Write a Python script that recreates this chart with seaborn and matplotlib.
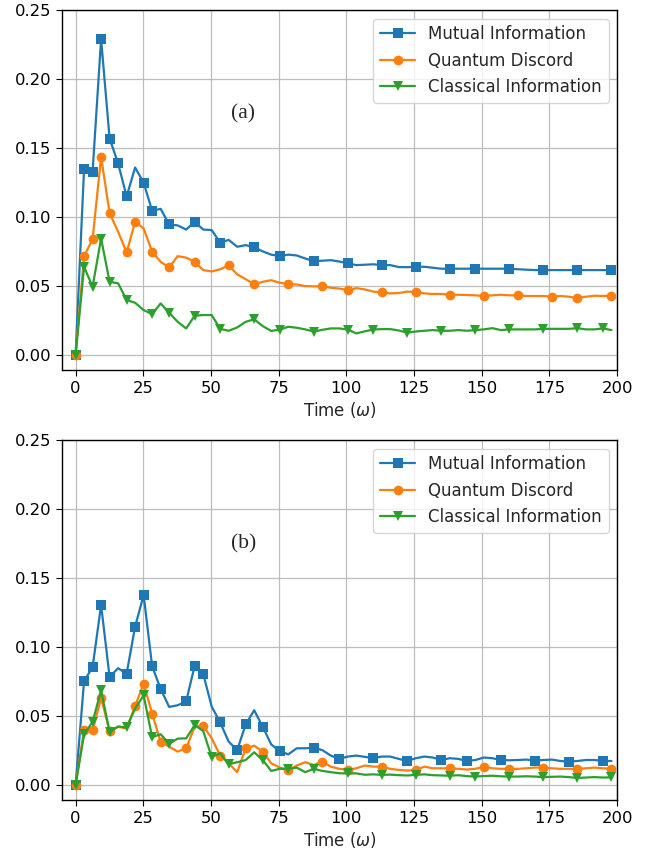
import numpy as np
import pandas as pd
import matplotlib
matplotlib.use("Agg")
import matplotlib.pyplot as plt
import seaborn as sns

# time grid (step = pi)
time = np.arange(64) * np.pi

series_names = ["Mutual Information", "Quantum Discord", "Classical Information"]

mi_a = [0, 0.135, 0.133, 0.229, 0.157, 0.139, 0.115, 0.136, 0.125, 0.1046,
        0.106, 0.0947, 0.094, 0.091, 0.0966, 0.091, 0.0906, 0.0815, 0.0835, 0.0785,
        0.0797, 0.0781, 0.0752, 0.0728, 0.0717, 0.0728, 0.0722, 0.0700, 0.0681, 0.0684,
        0.0688, 0.0678, 0.0665, 0.0652, 0.0655, 0.0658, 0.0652, 0.0652, 0.0638, 0.0637,
        0.0640, 0.0640, 0.0633, 0.0626, 0.0626, 0.0626, 0.0626, 0.0626, 0.0626, 0.0626,
        0.0626, 0.0626, 0.0622, 0.0619, 0.0616, 0.0616, 0.0616, 0.0616, 0.0616, 0.0616,
        0.0616, 0.0616, 0.0616, 0.0616]
qd_a = [0, 0.0717, 0.084, 0.1437, 0.103, 0.0894, 0.0744, 0.0966, 0.0918, 0.0749,
        0.0676, 0.0635, 0.0717, 0.0706, 0.0678, 0.0616, 0.0606, 0.0622, 0.0650, 0.0585,
        0.0550, 0.0514, 0.0531, 0.0543, 0.0524, 0.0514, 0.0512, 0.0500, 0.0498, 0.0499,
        0.0488, 0.0482, 0.0471, 0.0485, 0.0476, 0.0460, 0.0455, 0.0447, 0.0450, 0.0460,
        0.0457, 0.0447, 0.0443, 0.0443, 0.0437, 0.0437, 0.0435, 0.0433, 0.0428, 0.0433,
        0.0437, 0.0433, 0.0433, 0.0428, 0.0428, 0.0428, 0.0423, 0.0428, 0.0423, 0.0413,
        0.0423, 0.0430, 0.0428, 0.0430]
ci_a = [0, 0.064, 0.0495, 0.0845, 0.0531, 0.052, 0.0399, 0.0379, 0.0326, 0.0297,
        0.0374, 0.0307, 0.0241, 0.0193, 0.0285, 0.0290, 0.0290, 0.0190, 0.0176, 0.0200,
        0.0241, 0.0259, 0.0210, 0.0175, 0.0184, 0.0205, 0.0198, 0.0186, 0.0170, 0.0183,
        0.0193, 0.0193, 0.0185, 0.0157, 0.0172, 0.0185, 0.0188, 0.0188, 0.0178, 0.0162,
        0.0171, 0.0176, 0.0181, 0.0176, 0.0176, 0.0181, 0.0176, 0.0181, 0.0186, 0.0195,
        0.0181, 0.0186, 0.0186, 0.0186, 0.0186, 0.0190, 0.0190, 0.0190, 0.0190, 0.0195,
        0.0186, 0.0186, 0.0193, 0.0181]

mi_b = [0, 0.0754, 0.0855, 0.1306, 0.0783, 0.0848, 0.0807, 0.115, 0.1378, 0.0862,
        0.0697, 0.0567, 0.0579, 0.0607, 0.0865, 0.0807, 0.057, 0.0454, 0.0315, 0.0254,
        0.0440, 0.0543, 0.0423, 0.0295, 0.0247, 0.0223, 0.0267, 0.0267, 0.0271, 0.0254,
        0.0214, 0.0190, 0.0207, 0.0214, 0.0205, 0.0195, 0.0207, 0.0207, 0.0190, 0.0175,
        0.0195, 0.0207, 0.0200, 0.0182, 0.0195, 0.0190, 0.0175, 0.0182, 0.0200, 0.0195,
        0.0182, 0.0180, 0.0182, 0.0185, 0.0178, 0.0182, 0.0185, 0.0175, 0.0170, 0.0175,
        0.0182, 0.0182, 0.0175, 0.0175]
qd_b = [0, 0.0402, 0.0396, 0.0632, 0.0391, 0.0423, 0.0410, 0.0574, 0.0735, 0.0519,
        0.0315, 0.0279, 0.0243, 0.0267, 0.0423, 0.0430, 0.0340, 0.0214, 0.0158, 0.0094,
        0.0267, 0.0286, 0.0243, 0.0158, 0.0127, 0.0110, 0.0142, 0.0166, 0.0146, 0.0171,
        0.0134, 0.0118, 0.0110, 0.0122, 0.0142, 0.0134, 0.0134, 0.0118, 0.0110, 0.0106,
        0.0110, 0.0134, 0.0122, 0.0122, 0.0122, 0.0118, 0.0113, 0.0118, 0.0134, 0.0122,
        0.0118, 0.0118, 0.0118, 0.0122, 0.0127, 0.0127, 0.0122, 0.0118, 0.0118, 0.0118,
        0.0122, 0.0127, 0.0122, 0.0118]
ci_b = [0, 0.0368, 0.0459, 0.0687, 0.0385, 0.0425, 0.0418, 0.0555, 0.0651, 0.0347,
        0.0369, 0.0300, 0.0337, 0.0339, 0.0435, 0.0393, 0.0204, 0.0231, 0.0151, 0.0166,
        0.0182, 0.0238, 0.0182, 0.0103, 0.0118, 0.0118, 0.0127, 0.0094, 0.0118, 0.0103,
        0.0094, 0.0086, 0.0085, 0.0085, 0.0075, 0.0078, 0.0074, 0.0076, 0.0072, 0.0070,
        0.0074, 0.0078, 0.0072, 0.0070, 0.0068, 0.0072, 0.0065, 0.0062, 0.0066, 0.0068,
        0.0064, 0.0062, 0.0062, 0.0064, 0.0062, 0.0058, 0.0060, 0.0062, 0.0058, 0.0052,
        0.0055, 0.0058, 0.0055, 0.0056]

# indices of the samples that carry a marker (style)
mark_mi_a = [0, 1, 2, 3, 4, 5, 6, 8, 9, 11, 14, 17, 21, 24, 28, 32, 36, 40, 44, 47, 51, 55, 59, 63]
mark_qd_a = [0, 1, 2, 3, 4, 6, 7, 9, 11, 14, 18, 21, 25, 29, 32, 36, 40, 44, 48, 52, 56, 59, 63]
mark_ci_a = [0, 1, 2, 3, 4, 6, 9, 11, 14, 17, 21, 24, 28, 32, 35, 39, 43, 47, 51, 55, 59, 62]
mark_mi_b = [0, 1, 2, 3, 4, 6, 7, 8, 9, 10, 13, 14, 15, 17, 19, 20, 22, 24, 28, 31, 35, 39, 43, 46, 50, 54, 58, 62]
mark_qd_b = [0, 1, 2, 3, 4, 7, 8, 9, 10, 13, 15, 17, 20, 22, 25, 29, 32, 36, 40, 44, 48, 51, 55, 59, 63]
mark_ci_b = [0, 1, 2, 3, 4, 6, 8, 9, 11, 14, 16, 18, 22, 25, 28, 32, 36, 40, 44, 47, 51, 55, 59, 63]

x_ticks = [0, 25, 50, 75, 100, 125, 150, 175, 200]
y_ticks = [0.00, 0.05, 0.10, 0.15, 0.20, 0.25]
panel_labels = ["(a)", "(b)"]

colors = ["#1f77b4", "#ff7f0e", "#2ca02c"]
markers = ["s", "o", "v"]

sns.set_style("ticks")
plt.rcParams["font.family"] = ["DejaVu Sans"]

fig = plt.figure(figsize=(6.6, 8.55), dpi=100)
ax_a = fig.add_axes([0.094, 0.567, 0.841, 0.421])
ax_b = fig.add_axes([0.094, 0.064, 0.841, 0.421])

panels = [(ax_a, [mi_a, qd_a, ci_a], [mark_mi_a, mark_qd_a, mark_ci_a]),
          (ax_b, [mi_b, qd_b, ci_b], [mark_mi_b, mark_qd_b, mark_ci_b])]
for (ax, data, marks), lab in zip(panels, panel_labels):
    for name, vals, mk, c, m in zip(series_names, data, marks, colors, markers):
        df = pd.DataFrame({"t": time, "v": vals})
        sns.lineplot(data=df, x="t", y="v", ax=ax, color=c, marker=m,
                     markersize=7, markeredgewidth=0, linewidth=1.6,
                     markevery=mk, label=name)
    ax.set_xlim(-5, 200)
    ax.set_ylim(-0.011, 0.25)
    ax.set_xticks(x_ticks)
    ax.set_yticks(y_ticks)
    ax.set_yticklabels([f"{v:.2f}" for v in y_ticks])
    ax.tick_params(labelsize=11.8, colors="black", length=4)
    ax.grid(True, color="#bdbdbd", linewidth=0.9)
    ax.set_axisbelow(True)
    for s in ax.spines.values():
        s.set_visible(True)
        s.set_color("black")
        s.set_linewidth(1.0)
    ax.set_xlabel("Time ($\\omega$)", fontsize=12, labelpad=3)
    ax.set_ylabel("")
    ax.legend(loc="upper right", fontsize=12, frameon=True, handlelength=2.1,
              borderaxespad=0.5)
    ax.text(62, 0.175, lab, ha="center", va="center", fontsize=15.5,
            family=["Liberation Serif", "DejaVu Serif"])

fig.savefig("out.png", dpi=100)
